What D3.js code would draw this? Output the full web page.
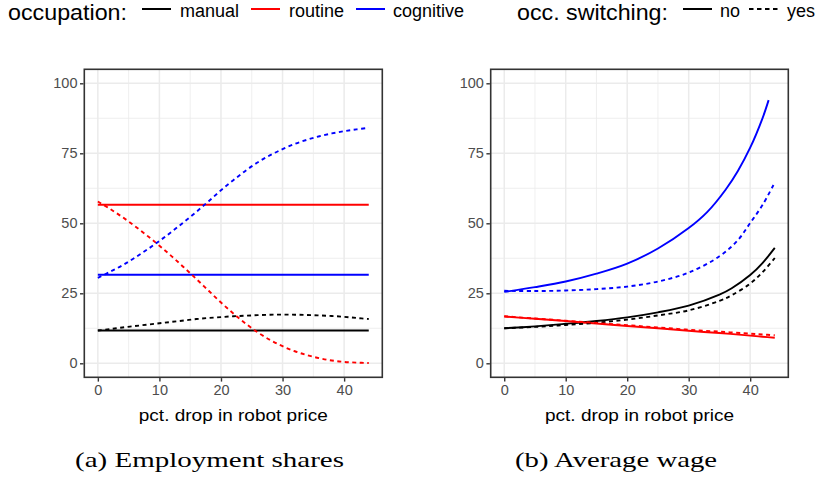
<!DOCTYPE html>
<html><head><meta charset="utf-8">
<script src="https://cdn.jsdelivr.net/npm/d3@7"></script>
<style>body{margin:0;background:#fff} svg{display:block}</style>
</head><body>
<svg id="chart" width="819" height="479"></svg>
<script>
// ---------- data ----------
const occupations = ["manual", "routine", "cognitive"];
const occColors = ["#000000", "#FF0000", "#0000FF"];
const switchLevels = ["no", "yes"];
const xTicks = [0, 10, 20, 30, 40];
const xMinor = [5, 15, 25, 35];
const yTicks = [0, 25, 50, 75, 100];
const yMinor = [12.5, 37.5, 62.5, 87.5];
const xLabel = "pct. drop in robot price";
const captions = ["(a) Employment shares", "(b) Average wage"];

// panel (a): employment shares
const shareFlatX = [0, 44];
const shareManualNo = [11.7, 11.7];
const shareRoutineNo = [56.6, 56.6];
const shareCognitiveNo = [31.6, 31.6];
const shareX = [0, 2, 4, 6, 8, 10, 12, 14, 16, 18, 20, 22, 24, 26, 28, 30, 32, 34, 36, 38, 40, 42, 44];
const shareManualYes = [11.7, 12.2, 12.8, 13.3, 13.8, 14.3, 14.8, 15.3, 15.8, 16.2, 16.5, 16.8, 17.0, 17.2, 17.35, 17.4, 17.35, 17.25, 17.1, 16.9, 16.6, 16.2, 15.8];
const shareRoutineYes = [57.8, 55.1, 52.2, 49.0, 45.6, 42.0, 38.2, 34.2, 30.1, 25.9, 21.7, 17.8, 14.2, 11.0, 8.3, 6.1, 4.3, 2.9, 1.8, 1.0, 0.5, 0.25, 0.1];
const shareCognitiveYes = [30.5, 32.7, 35.0, 37.7, 40.6, 43.7, 47.0, 50.5, 54.1, 57.9, 61.8, 65.4, 68.8, 71.8, 74.35, 76.5, 78.35, 79.85, 81.1, 82.1, 82.9, 83.55, 84.1];

// panel (b): average wage
const wageX = [0, 5, 10, 15, 20, 25, 30, 35, 40, 42, 44];
const wageManX = [0, 5, 10, 15, 20, 25, 30, 35, 37, 40, 42, 44];
const wageManualNo = [12.5, 13.2, 14.1, 15.1, 16.4, 18.2, 20.6, 24.5, 26.8, 31.5, 35.8, 41.2];
const wageManualYes = [12.5, 13.0, 13.7, 14.5, 15.6, 17.1, 18.9, 22.3, 24.3, 28.5, 32.5, 37.6];
const wageRoutineNo = [16.7, 15.9, 15.1, 14.2, 13.3, 12.5, 11.6, 10.8, 9.9, 9.5, 9.1];
const wageRoutineYes = [16.8, 16.0, 15.2, 14.4, 13.6, 12.8, 12.0, 11.3, 10.6, 10.3, 10.0];
const wageCogNoX = [0, 5, 10, 15, 20, 25, 30, 33, 36, 38, 40, 42, 43];
const wageCognitiveNo = [25.5, 27.2, 29.2, 32.0, 35.6, 41.0, 48.3, 54.0, 62.0, 68.7, 77.0, 87.5, 94.0];
const wageCogYesX = [0, 5, 10, 15, 20, 25, 30, 35, 38, 40, 42, 44];
const wageCognitiveYes = [25.9, 25.8, 26.0, 26.5, 27.4, 29.2, 32.4, 38.2, 44.0, 50.1, 56.5, 64.6];

const panels = [
  { x0: 84.3, x1: 382.3, caption: captions[0], capX: 209.5, capLen: 269, series: [
    { occ: 0, sw: 0, x: shareFlatX, y: shareManualNo },
    { occ: 1, sw: 0, x: shareFlatX, y: shareRoutineNo },
    { occ: 2, sw: 0, x: shareFlatX, y: shareCognitiveNo },
    { occ: 0, sw: 1, x: shareX, y: shareManualYes },
    { occ: 1, sw: 1, x: shareX, y: shareRoutineYes },
    { occ: 2, sw: 1, x: shareX, y: shareCognitiveYes }
  ]},
  { x0: 490.7, x1: 788.3, caption: captions[1], capX: 616, capLen: 202, series: [
    { occ: 0, sw: 0, x: wageManX, y: wageManualNo },
    { occ: 1, sw: 0, x: wageX, y: wageRoutineNo },
    { occ: 2, sw: 0, x: wageCogNoX, y: wageCognitiveNo },
    { occ: 0, sw: 1, x: wageManX, y: wageManualYes },
    { occ: 1, sw: 1, x: wageX, y: wageRoutineYes },
    { occ: 2, sw: 1, x: wageCogYesX, y: wageCognitiveYes }
  ]}
];

const svg = d3.select("#chart");
const sans = "'Liberation Sans', Arial, Helvetica, sans-serif";
const serif = "'Liberation Serif', 'DejaVu Serif', serif";
const dashPat = "4,3.5";
const pTop = 69.3, pBot = 377.3;

panels.forEach(p => {
  const x = d3.scaleLinear().domain([-2.2, 46.2]).range([p.x0, p.x1]);
  const y = d3.scaleLinear().domain([-5, 105]).range([pBot, pTop]);
  const g = svg.append("g");

  // minor grid
  g.selectAll(".vmin").data(xMinor).enter().append("line")
    .attr("x1", d => x(d)).attr("x2", d => x(d)).attr("y1", pTop).attr("y2", pBot)
    .attr("stroke", "#EBEBEB").attr("stroke-width", 0.8);
  g.selectAll(".hmin").data(yMinor).enter().append("line")
    .attr("x1", p.x0).attr("x2", p.x1).attr("y1", d => y(d)).attr("y2", d => y(d))
    .attr("stroke", "#EBEBEB").attr("stroke-width", 0.8);
  // major grid
  g.selectAll(".vmaj").data(xTicks).enter().append("line")
    .attr("x1", d => x(d)).attr("x2", d => x(d)).attr("y1", pTop).attr("y2", pBot)
    .attr("stroke", "#EBEBEB").attr("stroke-width", 1.5);
  g.selectAll(".hmaj").data(yTicks).enter().append("line")
    .attr("x1", p.x0).attr("x2", p.x1).attr("y1", d => y(d)).attr("y2", d => y(d))
    .attr("stroke", "#EBEBEB").attr("stroke-width", 1.5);

  // lines
  const line = d3.line().curve(d3.curveCatmullRom.alpha(0.5));
  p.series.forEach(s => {
    const pts = s.x.map((xv, i) => [x(xv), y(s.y[i])]);
    g.append("path").attr("d", line(pts))
      .attr("fill", "none")
      .attr("stroke", occColors[s.occ])
      .attr("stroke-width", 1.9)
      .attr("stroke-dasharray", s.sw === 1 ? dashPat : null);
  });

  // border
  g.append("rect").attr("x", p.x0).attr("y", pTop)
    .attr("width", p.x1 - p.x0).attr("height", pBot - pTop)
    .attr("fill", "none").attr("stroke", "#333333").attr("stroke-width", 1.6);

  // axes
  const xa = g.append("g").attr("transform", `translate(0,${pBot + 0.8})`)
    .call(d3.axisBottom(x).tickValues(xTicks).tickSize(3.5).tickPadding(3));
  const ya = g.append("g").attr("transform", `translate(${p.x0 - 0.8},0)`)
    .call(d3.axisLeft(y).tickValues(yTicks).tickSize(3.5).tickPadding(2.5));
  [xa, ya].forEach(a => {
    a.select(".domain").remove();
    a.selectAll("line").attr("stroke", "#333333").attr("stroke-width", 1.4);
    a.selectAll("text").attr("fill", "#4D4D4D").attr("font-size", 14.5)
      .attr("font-family", sans);
  });

  // axis title
  g.append("text").attr("x", (p.x0 + p.x1) / 2).attr("y", 420.5)
    .attr("text-anchor", "middle").attr("font-family", sans)
    .attr("font-size", 17).attr("textLength", 189).attr("lengthAdjust", "spacingAndGlyphs")
    .text(xLabel);

  // caption
  g.append("text").attr("x", p.capX).attr("y", 466.5)
    .attr("text-anchor", "middle").attr("font-family", serif)
    .attr("font-size", 21).attr("textLength", p.capLen).attr("lengthAdjust", "spacingAndGlyphs")
    .text(p.caption);
});

// ---------- legend ----------
const lg = svg.append("g").attr("font-family", sans);
const keyY = 9;
lg.append("text").attr("x", 8).attr("y", 19.5).attr("font-size", 21.5)
  .attr("textLength", 119).attr("lengthAdjust", "spacingAndGlyphs").text("occupation:");
const occKeyX = [142, 251, 356];
const occLabX = [180, 289, 393];
occupations.forEach((o, i) => {
  lg.append("line").attr("x1", occKeyX[i]).attr("x2", occKeyX[i] + 29)
    .attr("y1", keyY).attr("y2", keyY).attr("stroke", occColors[i]).attr("stroke-width", 2);
  lg.append("text").attr("x", occLabX[i]).attr("y", 16.5).attr("font-size", 18).text(o);
});
lg.append("text").attr("x", 517).attr("y", 19.5).attr("font-size", 21.5)
  .attr("textLength", 151).attr("lengthAdjust", "spacingAndGlyphs").text("occ. switching:");
const swKeyX = [683, 749];
const swLabX = [720, 787];
switchLevels.forEach((s, i) => {
  lg.append("line").attr("x1", swKeyX[i]).attr("x2", swKeyX[i] + 29)
    .attr("y1", keyY).attr("y2", keyY).attr("stroke", "#000").attr("stroke-width", 2)
    .attr("stroke-dasharray", i === 1 ? "4.5,3.5" : null);
  lg.append("text").attr("x", swLabX[i]).attr("y", 16.5).attr("font-size", 18).text(s);
});
</script>
</body></html>
